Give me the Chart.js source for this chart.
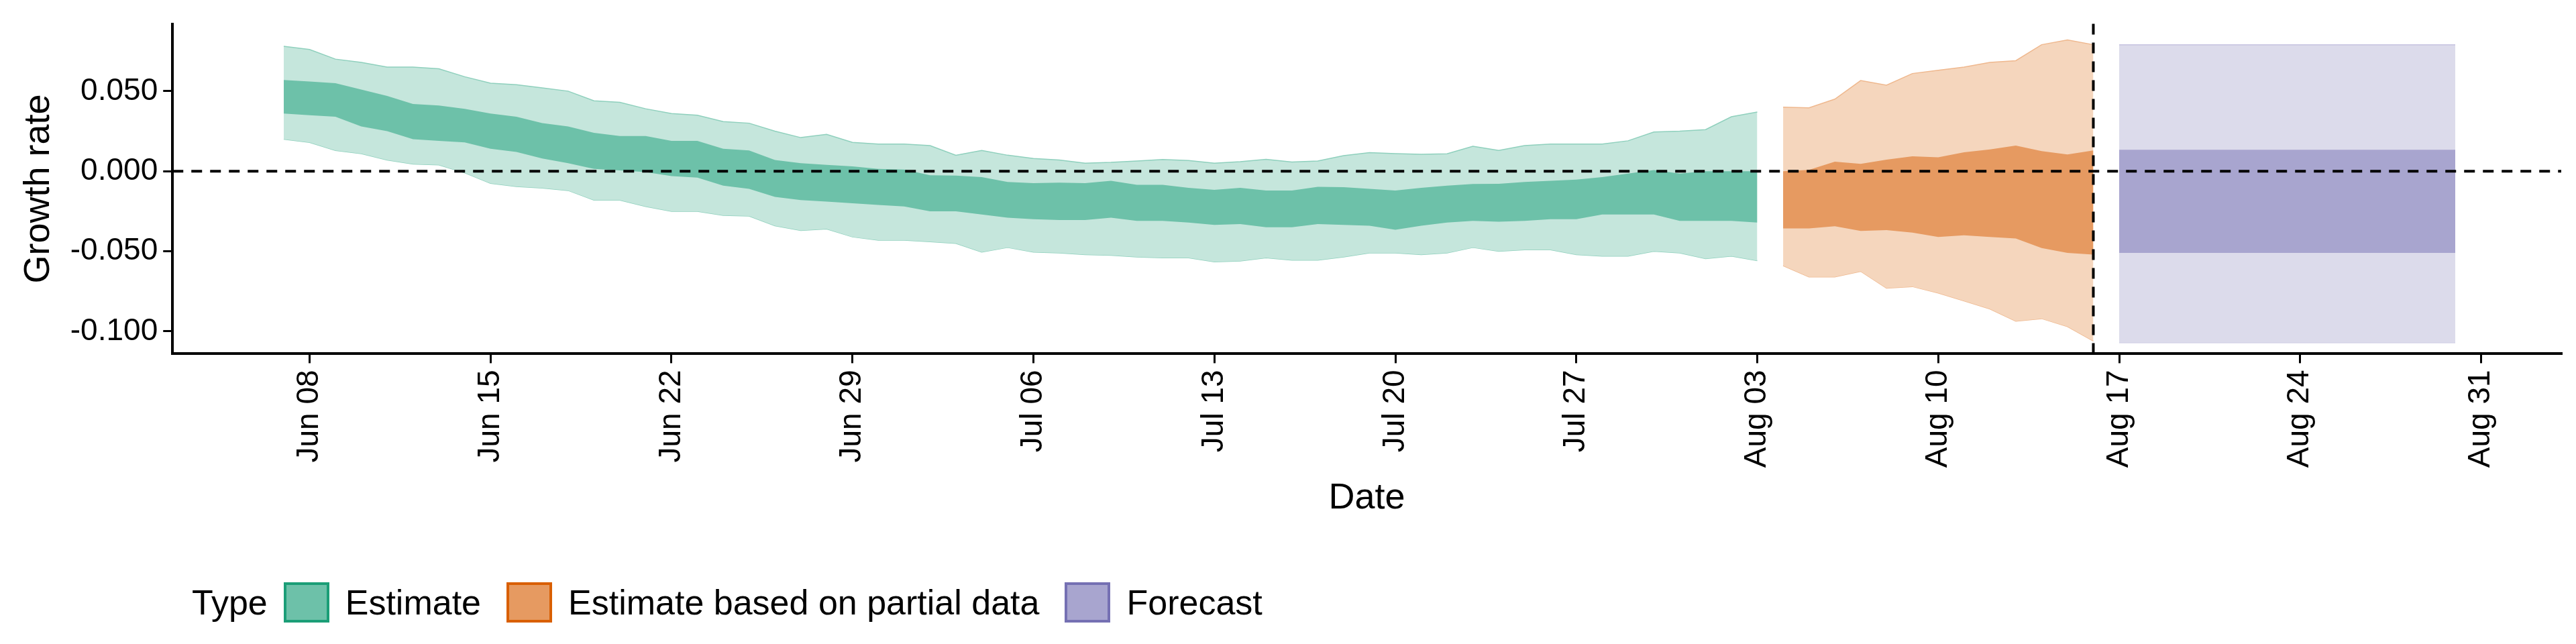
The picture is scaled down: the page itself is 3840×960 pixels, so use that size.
<!DOCTYPE html>
<html><head><meta charset="utf-8">
<script src="https://cdn.jsdelivr.net/npm/chart.js@4/dist/chart.umd.min.js"></script>
<style>
body{margin:0;background:#fff;width:3840px;height:960px;overflow:hidden;font-family:"Liberation Sans",Arial,sans-serif}
#wrap{position:absolute;left:0;top:0;width:3840px;height:790px}
#legend{position:absolute;left:0;top:862px;height:72px;display:flex;align-items:center;font-size:52px;color:#000}
#legend .t{margin-left:286px;margin-right:24px}
#legend .k{width:68px;height:60px;box-sizing:border-box;border:4px solid;margin-right:24px}
#legend .l{margin-right:38px}
</style></head><body>
<div id="wrap"><canvas id="c"></canvas></div>
<div id="legend"><span class="t">Type</span>
<span class="k" style="background:#6dc1a9;border-color:#1b9e77"></span><span class="l">Estimate</span>
<span class="k" style="background:#e69a61;border-color:#d95f02"></span><span class="l">Estimate based on partial data</span>
<span class="k" style="background:#a8a5cf;border-color:#7570b3"></span><span class="l">Forecast</span></div>
<script>
// days counted from Jun 01 (day 0)
const estDays = Array.from({length:58},(_,i)=>6+i); // Jun 07 .. Aug 03
const estOuterHi=[.078,.076,.070,.068,.065,.065,.064,.059,.055,.054,.052,.050,.044,.043,.039,.036,.035,.031,.030,.025,.021,.023,.018,.017,.017,.016,.010,.013,.010,.008,.007,.005,.0055,.0064,.0073,.0067,.005,.006,.0074,.0058,.0064,.0097,.0116,.011,.0106,.0109,.0156,.013,.016,.017,.017,.017,.019,.0245,.025,.026,.034,.037];
const estInnerHi=[.057,.056,.055,.051,.047,.042,.041,.039,.036,.034,.030,.028,.024,.022,.022,.019,.019,.014,.013,.007,.005,.004,.003,.0015,.001,-.0025,-.0027,-.0037,-.0067,-.0074,-.0071,-.0074,-.006,-.0085,-.0085,-.0104,-.0116,-.0104,-.012,-.012,-.0097,-.01,-.011,-.012,-.0104,-.009,-.008,-.0079,-.0067,-.006,-.0052,-.0037,-.0015,.0007,-.0015,0,0,0];
const estInnerLo=[.036,.035,.034,.028,.025,.020,.019,.018,.014,.012,.008,.005,.0015,.0005,-.0005,-.003,-.004,-.009,-.011,-.016,-.018,-.019,-.020,-.021,-.022,-.025,-.025,-.027,-.029,-.030,-.0305,-.0305,-.029,-.031,-.031,-.032,-.0335,-.033,-.035,-.035,-.033,-.0335,-.034,-.0365,-.034,-.032,-.031,-.0315,-.031,-.030,-.030,-.027,-.027,-.027,-.031,-.031,-.031,-.032];
const estOuterLo=[.020,.018,.013,.011,.007,.0045,.004,-.001,-.0075,-.0095,-.0105,-.012,-.018,-.018,-.022,-.025,-.025,-.0275,-.028,-.034,-.037,-.036,-.041,-.043,-.043,-.044,-.045,-.0505,-.0476,-.0505,-.051,-.052,-.0525,-.0535,-.054,-.054,-.0565,-.056,-.054,-.0555,-.0555,-.0535,-.051,-.051,-.052,-.051,-.0476,-.050,-.049,-.049,-.052,-.053,-.053,-.050,-.051,-.0546,-.053,-.0558];
const partDays = Array.from({length:13},(_,i)=>64+i); // Aug 04 .. Aug 16
const partOuterHi=[.040,.0396,.045,.0566,.0537,.061,.063,.065,.068,.069,.079,.082,.079];
const partInnerHi=[0,.0008,.006,.0046,.0072,.0093,.0087,.0118,.0136,.016,.0126,.0105,.013];
const partInnerLo=[-.0357,-.0357,-.0344,-.0373,-.0368,-.0383,-.041,-.040,-.041,-.042,-.048,-.051,-.052];
const partOuterLo=[-.059,-.066,-.066,-.0625,-.073,-.072,-.076,-.081,-.086,-.0936,-.092,-.097,-.106];
const fcDays=[77,90]; // Aug 17 .. Aug 30
const fcOuterHi=[.079,.079], fcInnerHi=[.0134,.0134], fcInnerLo=[-.051,-.051], fcOuterLo=[-.107,-.107];
const xTicks=[7,14,21,28,35,42,49,56,63,70,77,84,91];
const yTicks=[-0.1,-0.05,0,0.05];
const cutoffDay=76;

const mon=['Jan','Feb','Mar','Apr','May','Jun','Jul','Aug','Sep','Oct','Nov','Dec'];
function lab(n){const d=new Date(2020,5,1+n);return mon[d.getMonth()]+' '+String(d.getDate()).padStart(2,'0');}
const pts=(xs,ys)=>ys.map((y,i)=>({x:xs[i],y}));
function band(xs,hi,lo,fillC,edge,ord){
  return [
    {data:pts(xs,hi),fill:'+1',order:ord,backgroundColor:fillC,borderColor:edge||fillC,borderWidth:edge?1.5:0,pointRadius:0,tension:0},
    {data:pts(xs,lo),fill:false,order:ord,backgroundColor:fillC,borderColor:edge||fillC,borderWidth:edge?1.5:0,pointRadius:0,tension:0}];
}
const ds=[
 ...band(estDays,estOuterHi,estOuterLo,'#c5e6dc','#8fd0bd',2),
 ...band(estDays,estInnerHi,estInnerLo,'#6dc1a9',null,1),
 ...band(partDays,partOuterHi,partOuterLo,'#f5d6bd','#efb88e',2),
 ...band(partDays,partInnerHi,partInnerLo,'#e69a61',null,1),
 ...band(fcDays,fcOuterHi,fcOuterLo,'#dcdbeb','#c6c4e0',2),
 ...band(fcDays,fcInnerHi,fcInnerLo,'#a8a5cf',null,1)];
const refLines={id:'ref',afterDatasetsDraw(ch){
  const {ctx,chartArea:a,scales:{x,y}}=ch;ctx.save();ctx.strokeStyle='#000';ctx.lineWidth=4;ctx.setLineDash([16,12]);
  const y0=y.getPixelForValue(0);ctx.beginPath();ctx.moveTo(a.left,y0);ctx.lineTo(a.right,y0);ctx.stroke();
  const xc=x.getPixelForValue(cutoffDay);ctx.beginPath();ctx.moveTo(xc,a.top);ctx.lineTo(xc,a.bottom);ctx.stroke();
  ctx.restore();}};
Chart.defaults.font.family='"Liberation Sans", Arial, sans-serif';
Chart.defaults.color='#000';
new Chart(document.getElementById('c'),{type:'line',data:{datasets:ds},plugins:[refLines],
 options:{responsive:true,maintainAspectRatio:false,animation:false,
  layout:{padding:{left:22,right:22,top:30,bottom:10}},
  plugins:{legend:{display:false},tooltip:{enabled:false}},
  scales:{
   x:{type:'linear',min:1.7,max:94.1,afterBuildTicks:s=>{s.ticks=xTicks.map(v=>({value:v}));},
      ticks:{callback:v=>lab(v),minRotation:90,maxRotation:90,font:{size:46},padding:10},
      grid:{drawOnChartArea:false,drawTicks:true,tickLength:14,color:'#000',lineWidth:3},
      border:{color:'#000',width:4},
      title:{display:true,text:'Date',font:{size:54},padding:{top:4}}},
   y:{min:-0.114,max:0.092,afterBuildTicks:s=>{s.ticks=yTicks.map(v=>({value:v}));},
      ticks:{callback:v=>v.toFixed(3),font:{size:46},padding:8},
      grid:{drawOnChartArea:false,drawTicks:true,tickLength:14,color:'#000',lineWidth:3},
      border:{color:'#000',width:4},
      title:{display:true,text:'Growth rate',font:{size:54},padding:{bottom:6}}}}}});
</script></body></html>
